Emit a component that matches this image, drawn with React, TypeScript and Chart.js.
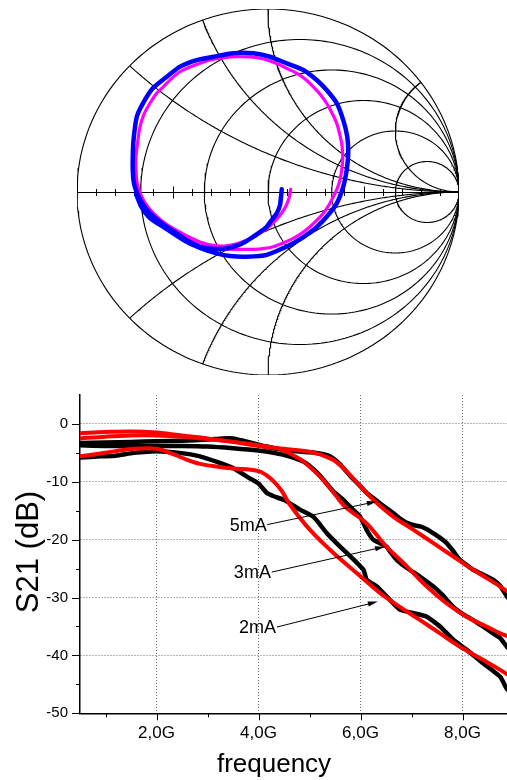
import React, { useEffect, useRef } from "react";
import { Chart, registerables } from "chart.js";

Chart.register(...registerables);

const FONT = 'Arial, "Liberation Sans", Helvetica, sans-serif';

// ---------------- Smith chart (reflection coefficient) ----------------
const blueRe = [0.072, 0.068, 0.063, 0.046, 0.016, -0.007, -0.042, -0.077, -0.12, -0.168, -0.236, -0.304, -0.356, -0.419, -0.478, -0.55, -0.618, -0.66, -0.686, -0.702, -0.708, -0.708, -0.704, -0.687, -0.654, -0.602, -0.53, -0.461, -0.373, -0.286, -0.182, -0.077, 0.01, 0.098, 0.185, 0.255, 0.307, 0.36, 0.394, 0.415, 0.42, 0.412, 0.394, 0.36, 0.307, 0.237, 0.132, -0.007, -0.112, -0.199, -0.269, -0.356, -0.443, -0.539, -0.618, -0.665, -0.691];
const blueIm = [0.015, -0.027, -0.071, -0.116, -0.158, -0.19, -0.219, -0.244, -0.273, -0.295, -0.311, -0.309, -0.299, -0.268, -0.226, -0.175, -0.116, -0.06, -0.005, 0.049, 0.12, 0.193, 0.284, 0.411, 0.486, 0.568, 0.63, 0.685, 0.721, 0.739, 0.758, 0.758, 0.739, 0.703, 0.667, 0.612, 0.557, 0.485, 0.393, 0.302, 0.211, 0.12, 0.029, -0.062, -0.135, -0.208, -0.28, -0.344, -0.354, -0.35, -0.335, -0.306, -0.262, -0.197, -0.142, -0.077, -0.011];
const magentaRe = [0.119, 0.11, 0.094, 0.068, 0.031, -0.01, -0.058, -0.11, -0.168, -0.23, -0.288, -0.356, -0.424, -0.492, -0.555, -0.607, -0.644, -0.67, -0.686, -0.691, -0.691, -0.681, -0.67, -0.649, -0.618, -0.586, -0.548, -0.508, -0.461, -0.408, -0.356, -0.304, -0.251, -0.199, -0.147, -0.094, -0.042, 0.01, 0.063, 0.105, 0.15, 0.194, 0.237, 0.272, 0.307, 0.335, 0.36, 0.374, 0.386, 0.39, 0.391, 0.386, 0.377, 0.361, 0.342, 0.319, 0.29, 0.257, 0.22, 0.178, 0.132, 0.079, 0.028, -0.026, -0.077, -0.131, -0.182, -0.236, -0.286, -0.34, -0.391, -0.445, -0.496, -0.539, -0.583, -0.635];
const magentaIm = [0.015, -0.033, -0.077, -0.12, -0.164, -0.202, -0.235, -0.262, -0.284, -0.295, -0.292, -0.273, -0.24, -0.202, -0.158, -0.109, -0.06, -0.005, 0.055, 0.12, 0.193, 0.284, 0.357, 0.426, 0.485, 0.536, 0.575, 0.617, 0.657, 0.683, 0.703, 0.721, 0.731, 0.738, 0.739, 0.738, 0.731, 0.716, 0.694, 0.672, 0.649, 0.617, 0.575, 0.536, 0.485, 0.432, 0.375, 0.322, 0.266, 0.219, 0.175, 0.12, 0.066, 0.016, -0.026, -0.071, -0.116, -0.153, -0.19, -0.224, -0.253, -0.279, -0.299, -0.309, -0.313, -0.314, -0.313, -0.309, -0.299, -0.281, -0.262, -0.238, -0.208, -0.175, -0.135, -0.08];
const resistanceCircles = [0, 0.2, 0.5, 1, 2, 5];
const reactanceArcs = [0.4, 0.7, 1, 3, -0.4, -0.7, -1];
const realAxisTicks = [-0.9, -0.8, -0.7, -0.6, -0.5, -0.4, -0.3, -0.2, -0.1, 0.1, 0.2, 0.3, 0.4, 0.5, 0.6, 0.7, 0.8, 0.9];
const realAxisMajorTicks = [-0.5, 0.5];

// ---------------- S21 vs frequency ----------------
const freqBlack5 = [0.5, 1.0, 1.5, 2.0, 2.5, 3.0, 3.3, 3.5, 3.7, 4.0, 4.3, 4.6, 5.0, 5.2, 5.4, 5.6, 5.8, 6.0, 6.12, 6.25, 6.38, 6.5, 6.64, 6.8, 6.91, 7.05, 7.17, 7.3, 7.43, 7.55, 7.69, 7.82, 7.95, 8.1, 8.21, 8.4, 8.6, 8.74, 8.87, 9.0];
const s21Black5 = [-3.3, -3.2, -3.1, -3.0, -2.9, -2.7, -2.5, -2.5, -2.9, -3.6, -4.2, -4.6, -4.9, -5.1, -5.6, -7.0, -9.0, -10.8, -11.9, -12.8, -13.7, -14.5, -15.4, -16.5, -17.1, -17.5, -17.7, -18.2, -18.9, -19.6, -20.6, -22.0, -23.5, -24.5, -25.2, -26.0, -26.9, -28.0, -29.8, -31.0];
const freqBlack3 = [0.5, 1.0, 1.5, 2.0, 2.5, 3.0, 3.5, 4.0, 4.3, 4.6, 4.9, 5.1, 5.27, 5.45, 5.66, 5.85, 5.99, 6.12, 6.25, 6.38, 6.51, 6.6, 6.71, 6.91, 7.17, 7.43, 7.6, 7.82, 8.0, 8.21, 8.4, 8.6, 8.74, 8.87, 9.0];
const s21Black3 = [-3.7, -3.8, -3.8, -3.8, -3.8, -3.9, -4.2, -4.6, -5.0, -5.6, -6.6, -8.0, -9.6, -11.5, -13.1, -14.8, -16.0, -18.3, -20.0, -20.6, -21.2, -22.3, -23.5, -24.9, -26.4, -28.1, -29.5, -31.6, -32.8, -33.9, -35.0, -36.2, -37.0, -38.5, -39.6];
const freqBlack2 = [0.5, 0.9, 1.2, 1.55, 2.0, 2.45, 2.85, 3.2, 3.5, 3.83, 4.0, 4.16, 4.3, 4.49, 4.65, 4.81, 5.07, 5.2, 5.34, 5.53, 5.73, 5.93, 6.06, 6.12, 6.32, 6.51, 6.77, 7.04, 7.3, 7.56, 7.82, 8.08, 8.41, 8.74, 8.87, 9.0];
const s21Black2 = [-5.8, -5.6, -5.5, -5.0, -4.7, -5.0, -5.6, -6.6, -7.6, -9.4, -10.3, -11.9, -12.5, -13.1, -13.9, -14.8, -16.0, -17.3, -18.9, -20.6, -22.3, -24.0, -25.2, -26.9, -28.1, -29.8, -32.1, -32.7, -33.3, -35.0, -37.3, -39.0, -41.4, -43.7, -45.8, -46.8];
const freqRed5 = [0.5, 1.0, 1.5, 2.0, 2.5, 3.0, 3.5, 4.0, 4.5, 5.0, 5.25, 5.5, 5.75, 6.0, 6.25, 6.64, 7.04, 7.43, 7.82, 8.21, 8.74, 9.0];
const s21Red5 = [-1.6, -1.4, -1.3, -1.5, -2.0, -2.5, -3.1, -3.8, -4.3, -4.8, -5.4, -6.4, -8.4, -10.8, -13.1, -16.0, -18.3, -20.6, -22.9, -25.2, -28.1, -29.7];
const freqRed3 = [0.5, 1.0, 1.5, 2.0, 2.5, 3.0, 3.5, 4.0, 4.4, 4.8, 5.1, 5.3, 5.5, 5.7, 6.12, 6.51, 6.91, 7.3, 7.69, 8.08, 8.47, 8.74, 9.0];
const s21Red3 = [-2.5, -2.2, -2.0, -2.0, -2.2, -2.6, -3.1, -3.7, -4.3, -6.0, -8.2, -10.0, -12.2, -14.3, -17.2, -21.2, -24.6, -28.1, -31.0, -33.3, -35.0, -36.2, -37.0];
const freqRed2 = [0.5, 0.9, 1.2, 1.55, 2.0, 2.35, 2.6, 2.85, 3.2, 3.5, 3.85, 4.05, 4.25, 4.45, 4.62, 5.01, 5.47, 5.93, 6.38, 6.77, 7.17, 7.56, 7.95, 8.41, 8.74, 9.0];
const s21Red2 = [-5.6, -5.1, -4.7, -4.3, -4.3, -5.3, -6.2, -6.9, -7.4, -7.7, -7.9, -8.3, -9.5, -11.5, -14.0, -18.3, -22.3, -25.8, -29.2, -31.6, -33.9, -36.2, -38.5, -40.8, -42.5, -44.0];

const xTickValues = [2, 4, 6, 8];
const xMinorValues = [1, 3, 5, 7, 9];
const yTickValues = [0, -10, -20, -30, -40, -50];
const yMinorValues = [-5, -15, -25, -35, -45];

const annLabels = ["5mA", "3mA", "2mA"];
const annTextFreq = [3.8, 3.88, 3.98];
const annTextDb = [-17.7, -25.8, -35.3];
const annStartFreq = [4.17, 4.26, 4.36];
const annStartDb = [-17.4, -25.6, -35.1];
const annTipFreq = [6.32, 6.48, 6.34];
const annTipDb = [-13.4, -21.2, -30.7];

// ---------------- helpers ----------------
const zip = (xs: number[], ys: number[]) => xs.map((x, i) => ({ x, y: ys[i] }));

function resistanceCircle(r: number) {
  const c = r / (1 + r);
  const R = 1 / (1 + r);
  const pts: { x: number; y: number }[] = [];
  const N = 240;
  for (let i = 0; i <= N; i++) {
    const t = (2 * Math.PI * i) / N;
    pts.push({ x: c + R * Math.cos(t), y: R * Math.sin(t) });
  }
  return pts;
}

function reactanceArc(x: number) {
  const pts: { x: number; y: number }[] = [];
  const N = 260;
  for (let i = 0; i < N; i++) {
    const s = i / N;
    const r = s / (1 - s);
    const D = (r + 1) * (r + 1) + x * x;
    pts.push({ x: (r * r + x * x - 1) / D, y: (2 * x) / D });
  }
  pts.push({ x: 1, y: 0 });
  return pts;
}

const smithAxisPlugin = {
  id: "smithAxis",
  beforeDatasetsDraw(chart: any) {
    const { ctx, scales } = chart;
    const sx = scales.x;
    const sy = scales.y;
    const y0 = Math.round(sy.getPixelForValue(0)) + 0.5;
    ctx.save();
    ctx.strokeStyle = "#000";
    ctx.lineWidth = 1.2;
    ctx.beginPath();
    ctx.moveTo(sx.getPixelForValue(-1), y0);
    ctx.lineTo(sx.getPixelForValue(1), y0);
    ctx.stroke();
    ctx.lineWidth = 1;
    for (const v of realAxisTicks) {
      const px = Math.round(sx.getPixelForValue(v)) + 0.5;
      const h = realAxisMajorTicks.includes(v) ? 6 : 3.5;
      ctx.beginPath();
      ctx.moveTo(px, y0 - h);
      ctx.lineTo(px, y0 + h);
      ctx.stroke();
    }
    ctx.restore();
  },
};

const s21DecorPlugin = {
  id: "s21Decor",
  afterDraw(chart: any) {
    const { ctx, scales, chartArea } = chart;
    const sx = scales.x;
    const sy = scales.y;
    ctx.save();
    ctx.strokeStyle = "#000";
    ctx.lineWidth = 1;
    const b = chartArea.bottom;
    const l = chartArea.left;
    for (const v of xTickValues) {
      const px = Math.round(sx.getPixelForValue(v)) + 0.5;
      ctx.beginPath(); ctx.moveTo(px, b); ctx.lineTo(px, b + 7); ctx.stroke();
    }
    for (const v of xMinorValues) {
      const px = Math.round(sx.getPixelForValue(v)) + 0.5;
      ctx.beginPath(); ctx.moveTo(px, b); ctx.lineTo(px, b + 4); ctx.stroke();
    }
    for (const v of yTickValues) {
      const py = Math.round(sy.getPixelForValue(v)) + 0.5;
      ctx.beginPath(); ctx.moveTo(l - 8, py); ctx.lineTo(l, py); ctx.stroke();
    }
    for (const v of yMinorValues) {
      const py = Math.round(sy.getPixelForValue(v)) + 0.5;
      ctx.beginPath(); ctx.moveTo(l - 4, py); ctx.lineTo(l, py); ctx.stroke();
    }

    // axis titles
    ctx.fillStyle = "#000";
    ctx.font = `31px ${FONT}`;
    ctx.textAlign = "center";
    ctx.textBaseline = "alphabetic";
    ctx.save();
    ctx.translate(37.5, 162);
    ctx.rotate(-Math.PI / 2);
    ctx.fillText("S21 (dB)", 0, 0);
    ctx.restore();
    ctx.font = `26px ${FONT}`;
    ctx.fillText("frequency", 274, 382);

    // annotations
    ctx.font = `18px ${FONT}`;
    ctx.textBaseline = "middle";
    annLabels.forEach((label, i) => {
      const tx = sx.getPixelForValue(annTextFreq[i]);
      const ty = sy.getPixelForValue(annTextDb[i]);
      ctx.fillText(label, tx, ty);
      const x1 = sx.getPixelForValue(annStartFreq[i]);
      const y1 = sy.getPixelForValue(annStartDb[i]);
      const x2 = sx.getPixelForValue(annTipFreq[i]);
      const y2 = sy.getPixelForValue(annTipDb[i]);
      const ang = Math.atan2(y2 - y1, x2 - x1);
      const hl = 10;
      const hw = 2.6;
      ctx.beginPath();
      ctx.moveTo(x1, y1);
      ctx.lineTo(x2 - hl * Math.cos(ang) * 0.8, y2 - hl * Math.sin(ang) * 0.8);
      ctx.stroke();
      ctx.beginPath();
      ctx.moveTo(x2, y2);
      ctx.lineTo(x2 - hl * Math.cos(ang) + hw * Math.sin(ang), y2 - hl * Math.sin(ang) - hw * Math.cos(ang));
      ctx.lineTo(x2 - hl * Math.cos(ang) - hw * Math.sin(ang), y2 - hl * Math.sin(ang) + hw * Math.cos(ang));
      ctx.closePath();
      ctx.fill();
    });
    ctx.restore();
  },
};

function SmithChart() {
  const ref = useRef<HTMLCanvasElement>(null);
  useEffect(() => {
    if (!ref.current) return;
    const gridStyle = {
      showLine: true,
      borderColor: "#000",
      borderWidth: 1.1,
      pointRadius: 0,
      fill: false,
      tension: 0,
      order: 2,
    };
    const gridSets = [
      ...resistanceCircles.map((r) => ({ ...gridStyle, data: resistanceCircle(r) })),
      ...reactanceArcs.map((x) => ({ ...gridStyle, data: reactanceArc(x) })),
    ];
    const chart = new Chart(ref.current, {
      type: "scatter",
      data: {
        datasets: [
          {
            data: zip(blueRe, blueIm),
            showLine: true,
            borderColor: "#0000ff",
            borderWidth: 4.5,
            pointRadius: 0,
            tension: 0.2,
            borderJoinStyle: "round",
            borderCapStyle: "round",
            order: 0,
          },
          {
            data: zip(magentaRe, magentaIm),
            showLine: true,
            borderColor: "#ff00ff",
            borderWidth: 3.2,
            pointRadius: 0,
            tension: 0.2,
            borderJoinStyle: "round",
            borderCapStyle: "round",
            order: 1,
          },
          ...gridSets,
        ] as any,
      },
      options: {
        animation: false,
        responsive: false,
        devicePixelRatio: 1,
        layout: { autoPadding: false, padding: { left: 77, right: 48, top: 9, bottom: 15 } },
        plugins: { legend: { display: false }, tooltip: { enabled: false } },
        scales: {
          x: { type: "linear", min: -1, max: 1, display: false },
          y: { type: "linear", min: -1, max: 1, display: false },
        },
      },
      plugins: [smithAxisPlugin],
    });
    return () => chart.destroy();
  }, []);
  return (
    <canvas
      ref={ref}
      width={507}
      height={390}
      style={{ position: "absolute", left: 0, top: 0, width: 507, height: 390 }}
    />
  );
}

function S21Chart() {
  const ref = useRef<HTMLCanvasElement>(null);
  useEffect(() => {
    if (!ref.current) return;
    const line = (xs: number[], ys: number[], color: string, w: number, order: number, tension: number) => ({
      data: zip(xs, ys),
      showLine: true,
      borderColor: color,
      borderWidth: w,
      pointRadius: 0,
      tension,
      borderJoinStyle: "round",
      borderCapStyle: "round",
      order,
    });
    const chart = new Chart(ref.current, {
      type: "scatter",
      data: {
        datasets: [
          line(freqRed5, s21Red5, "#ff0000", 4, 0, 0.35),
          line(freqRed3, s21Red3, "#ff0000", 4, 0, 0.35),
          line(freqRed2, s21Red2, "#ff0000", 4, 0, 0.35),
          line(freqBlack5, s21Black5, "#000000", 4.5, 1, 0.15),
          line(freqBlack3, s21Black3, "#000000", 4.5, 1, 0.15),
          line(freqBlack2, s21Black2, "#000000", 4.5, 1, 0.15),
        ] as any,
      },
      options: {
        animation: false,
        responsive: false,
        devicePixelRatio: 1,
        layout: { autoPadding: false, padding: { left: 0, right: 46.5, top: 5, bottom: 0 } },
        plugins: { legend: { display: false }, tooltip: { enabled: false } },
        scales: {
          x: {
            type: "linear",
            min: 0.5,
            max: 9,
            afterBuildTicks: (s: any) => {
              s.ticks = xTickValues.map((v) => ({ value: v }));
            },
            afterFit: (s: any) => {
              s.height = 66.7;
              s.paddingLeft = 0;
              s.paddingRight = 0;
            },
            ticks: {
              autoSkip: false,
              maxRotation: 0,
              padding: 3,
              color: "#000",
              font: { family: FONT, size: 17 },
              callback: (v: any) => Number(v).toFixed(1).replace(".", ",") + "G",
            },
            grid: {
              color: "#6a6a6a",
              lineWidth: 1,
              drawTicks: true,
              tickLength: 7,
              tickColor: "rgba(0,0,0,0)",
            },
            border: { display: true, color: "#000", width: 1.5, dash: [1, 2] },
          },
          y: {
            type: "linear",
            min: -50,
            max: 5,
            afterBuildTicks: (s: any) => {
              s.ticks = yTickValues.map((v) => ({ value: v }));
            },
            afterFit: (s: any) => {
              s.width = 80;
              s.paddingTop = 0;
              s.paddingBottom = 0;
            },
            ticks: {
              autoSkip: false,
              padding: 4,
              color: "#000",
              font: { family: FONT, size: 15 },
              callback: (v: any) => String(v),
            },
            grid: {
              color: (c: any) => (c.tick && c.tick.value === -50 ? "rgba(0,0,0,0)" : "#6a6a6a"),
              lineWidth: 1,
              drawTicks: true,
              tickLength: 8,
              tickColor: "rgba(0,0,0,0)",
            },
            border: { display: true, color: "#000", width: 1.5, dash: [1, 2] },
          },
        },
      },
      plugins: [s21DecorPlugin],
    });
    return () => chart.destroy();
  }, []);
  return (
    <canvas
      ref={ref}
      width={560}
      height={390}
      style={{ position: "absolute", left: 0, top: 390, width: 560, height: 390 }}
    />
  );
}

export default function App() {
  return (
    <div
      style={{
        position: "fixed",
        left: 0,
        top: 0,
        width: 507,
        height: 780,
        overflow: "hidden",
        background: "#fff",
      }}
    >
      <SmithChart />
      <S21Chart />
    </div>
  );
}
